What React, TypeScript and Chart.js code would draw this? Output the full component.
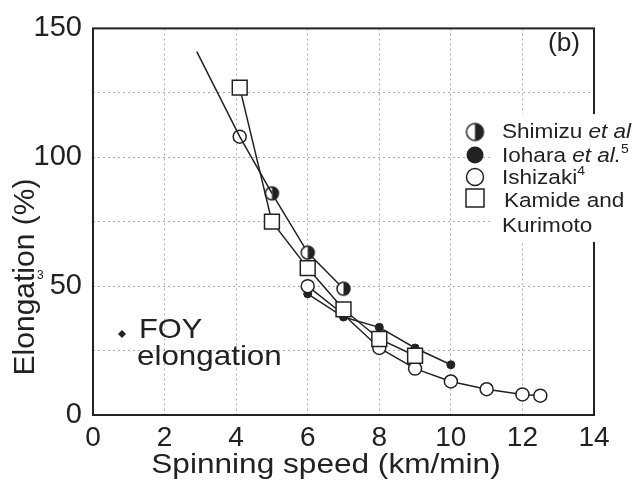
import React, { useEffect, useRef } from 'react';
import { Chart, registerables } from 'chart.js';

Chart.register(...registerables);

// ---- data ----
const xTickValues = [0, 2, 4, 6, 8, 10, 12, 14];
const yTickLabels = [0, 50, 100, 150];

const trendX = [2.9, 4.1, 5];
const trendY = [141, 108, 86];

const shimizuX = [5, 6, 7];
const shimizuY = [86, 63, 49];

const ioharaX = [6, 7, 8, 9, 10];
const ioharaY = [47, 38, 34, 26, 19.5];

const ishizakiX = [4.1, 6, 7, 8, 9, 10, 11, 12, 12.5];
const ishizakiY = [108, 50, 39, 26, 18, 13, 10, 8, 7.5];

const kamideX = [4.1, 5, 6, 7, 8, 9];
const kamideY = [127, 75, 57, 41, 29.5, 23];

const legendNames = ['Shimizu', 'Iohara', 'Ishizaki', 'Kamide and', 'Kurimoto'];

const FONT = '"Liberation Sans", Arial, Helvetica, sans-serif';
const INK = '#222';
const GRID = 'rgba(0,0,0,0.32)';

const pts = (xs: number[], ys: number[]) => xs.map((x, i) => ({ x, y: ys[i] }));

function halfCircle(r: number): HTMLCanvasElement {
  const size = Math.ceil(r * 2 + 4);
  const c = document.createElement('canvas');
  c.width = size;
  c.height = size;
  const g = c.getContext('2d')!;
  const m = size / 2;
  g.fillStyle = '#fff';
  g.beginPath();
  g.arc(m, m, r, 0, Math.PI * 2);
  g.fill();
  g.fillStyle = INK;
  g.beginPath();
  g.arc(m, m, r, -Math.PI / 2, Math.PI / 2);
  g.closePath();
  g.fill();
  g.strokeStyle = INK;
  g.lineWidth = 1.5;
  g.beginPath();
  g.arc(m, m, r, 0, Math.PI * 2);
  g.stroke();
  return c;
}

type Run = { t: string; it?: boolean; sup?: boolean };
function drawRuns(ctx: CanvasRenderingContext2D, x: number, y: number, runs: Run[], size: number, sx = 1) {
  ctx.save();
  ctx.translate(x, y);
  ctx.scale(sx, 1);
  let cx = 0;
  for (const r of runs) {
    const s = r.sup ? size * 0.62 : size;
    ctx.font = `${r.it ? 'italic ' : ''}${s}px ${FONT}`;
    ctx.fillText(r.t, cx, r.sup ? -size * 0.42 : 0);
    cx += ctx.measureText(r.t).width;
  }
  ctx.restore();
}

function stretchedText(ctx: CanvasRenderingContext2D, t: string, x: number, y: number, size: number, sx: number, align: CanvasTextAlign = 'left') {
  ctx.save();
  ctx.translate(x, y);
  ctx.scale(sx, 1);
  ctx.font = `${size}px ${FONT}`;
  ctx.textAlign = align;
  ctx.fillText(t, 0, 0);
  ctx.restore();
}

const frame = {
  id: 'frame',
  beforeDatasetsDraw(chart: any) {
    const ctx: CanvasRenderingContext2D = chart.ctx;
    const a = chart.chartArea;
    ctx.save();
    ctx.strokeStyle = INK;
    ctx.lineWidth = 2;
    ctx.setLineDash([]);
    ctx.strokeRect(a.left, a.top, a.right - a.left, a.bottom - a.top);
    ctx.restore();
  },
};

const annotations = {
  id: 'annotations',
  afterDraw(chart: any) {
    const ctx: CanvasRenderingContext2D = chart.ctx;
    ctx.save();

    // legend panel
    ctx.fillStyle = '#fff';
    ctx.fillRect(492, 114, 143, 128);

    ctx.fillStyle = INK;
    ctx.strokeStyle = INK;
    ctx.textBaseline = 'alphabetic';
    ctx.textAlign = 'left';

    // legend markers
    const mx = 475;
    const hc = halfCircle(8.5);
    ctx.drawImage(hc, mx - hc.width / 2, 132 - hc.height / 2);
    ctx.beginPath();
    ctx.arc(mx, 155, 8.5, 0, Math.PI * 2);
    ctx.fill();
    ctx.lineWidth = 1.5;
    ctx.beginPath();
    ctx.arc(mx, 177, 8.5, 0, Math.PI * 2);
    ctx.fillStyle = '#fff';
    ctx.fill();
    ctx.stroke();
    ctx.fillStyle = '#fff';
    ctx.fillRect(mx - 9, 189, 18, 18);
    ctx.strokeRect(mx - 9, 189, 18, 18);

    ctx.fillStyle = INK;
    const ls = 20.5;
    const lsx = 1.1;
    drawRuns(ctx, 502, 138, [{ t: legendNames[0] + ' ' }, { t: 'et al', it: true }], ls, lsx);
    drawRuns(ctx, 502, 162, [{ t: legendNames[1] + ' ' }, { t: 'et al.', it: true }, { t: '5', sup: true }], ls, lsx);
    drawRuns(ctx, 502, 184, [{ t: legendNames[2] }, { t: '4', sup: true }], ls, lsx);
    drawRuns(ctx, 504, 207, [{ t: legendNames[3] }], ls, lsx);
    drawRuns(ctx, 502, 232, [{ t: legendNames[4] }], ls, lsx);

    // panel label
    stretchedText(ctx, '(b)', 548, 51, 25, 1.05);

    // FOY note
    ctx.beginPath();
    ctx.moveTo(122, 330);
    ctx.lineTo(126, 334);
    ctx.lineTo(122, 338);
    ctx.lineTo(118, 334);
    ctx.closePath();
    ctx.fill();
    stretchedText(ctx, 'FOY', 139, 338, 28, 1.1);
    stretchedText(ctx, 'elongation', 137, 365, 28, 1.12);

    // stray reference mark at the left edge
    ctx.font = `12px ${FONT}`;
    ctx.fillText('.', 22, 288);
    ctx.fillText('3', 37, 279);

    // axis titles
    stretchedText(ctx, 'Spinning speed (km/min)', 326, 473, 27, 1.17, 'center');
    ctx.save();
    ctx.translate(34, 277);
    ctx.rotate(-Math.PI / 2);
    ctx.font = `30px ${FONT}`;
    ctx.textAlign = 'center';
    ctx.fillText('Elongation (%)', 0, 0);
    ctx.restore();

    ctx.restore();
  },
};

export default function App() {
  const ref = useRef<HTMLCanvasElement>(null);

  useEffect(() => {
    if (!ref.current) return;
    const line = { borderColor: INK, borderWidth: 1.5, showLine: true, tension: 0 };
    const gridFor = (edgeLo: number, edgeHi: number) => ({
      color: (c: any) => (c.tick && (c.tick.value === edgeLo || c.tick.value === edgeHi) ? 'rgba(0,0,0,0)' : GRID),
      lineWidth: 1,
      drawTicks: false,
    });
    const chart = new Chart(ref.current, {
      type: 'scatter',
      data: {
        datasets: [
          {
            label: 'trend',
            data: pts(trendX, trendY),
            ...line,
            pointRadius: 0,
          },
          {
            label: 'Kamide and Kurimoto',
            data: pts(kamideX, kamideY),
            ...line,
            pointStyle: 'rect',
            pointRadius: 10.5,
            pointBackgroundColor: '#fff',
            pointBorderColor: INK,
            pointBorderWidth: 1.5,
          },
          {
            label: 'Ishizaki',
            data: pts(ishizakiX, ishizakiY),
            ...line,
            segment: {
              borderColor: (c: any) => (c.p0DataIndex === 0 ? 'rgba(0,0,0,0)' : INK),
            },
            pointStyle: 'circle',
            pointRadius: (c: any) => (c.dataIndex === 2 ? 0 : 6.5),
            pointBackgroundColor: '#fff',
            pointBorderColor: INK,
            pointBorderWidth: 1.5,
          },
          {
            label: 'Shimizu et al',
            data: pts(shimizuX, shimizuY),
            ...line,
            pointStyle: halfCircle(6.5),
            pointRadius: 7,
          },
          {
            label: 'Iohara et al.',
            data: pts(ioharaX, ioharaY),
            ...line,
            pointStyle: 'circle',
            pointRadius: 4,
            pointBackgroundColor: INK,
            pointBorderColor: INK,
            pointBorderWidth: 1,
          },
        ],
      },
      options: {
        animation: false,
        responsive: false,
        devicePixelRatio: 1,
        layout: { padding: { top: 19, right: 41, left: 0, bottom: 0 } },
        plugins: {
          legend: { display: false },
          tooltip: { enabled: false },
          title: { display: false },
        },
        scales: {
          x: {
            type: 'linear',
            min: 0,
            max: 14,
            afterFit: (s: any) => {
              s.height = 68;
            },
            afterBuildTicks: (s: any) => {
              s.ticks = xTickValues.map((v) => ({ value: v }));
            },
            ticks: {
              font: { family: FONT, size: 28 },
              color: INK,
              padding: 6,
              maxRotation: 0,
              autoSkip: false,
            },
            grid: gridFor(0, 14) as any,
            border: { display: false, dash: [2, 3] },
          },
          y: {
            type: 'linear',
            min: 0,
            max: 150,
            afterFit: (s: any) => {
              s.width = 93;
            },
            ticks: {
              stepSize: 25,
              font: { family: FONT, size: 29 },
              color: INK,
              padding: 11,
              callback: (v: any) => (yTickLabels.includes(Number(v)) ? String(v) : ''),
            },
            grid: gridFor(0, 150) as any,
            border: { display: false, dash: [2, 3] },
          },
        },
      },
      plugins: [frame, annotations],
    } as any);
    return () => chart.destroy();
  }, []);

  return (
    <div style={{ position: 'absolute', left: 0, top: 0, width: 635, height: 483, background: '#fff' }}>
      <canvas ref={ref} width={635} height={483} style={{ display: 'block' }} />
    </div>
  );
}
